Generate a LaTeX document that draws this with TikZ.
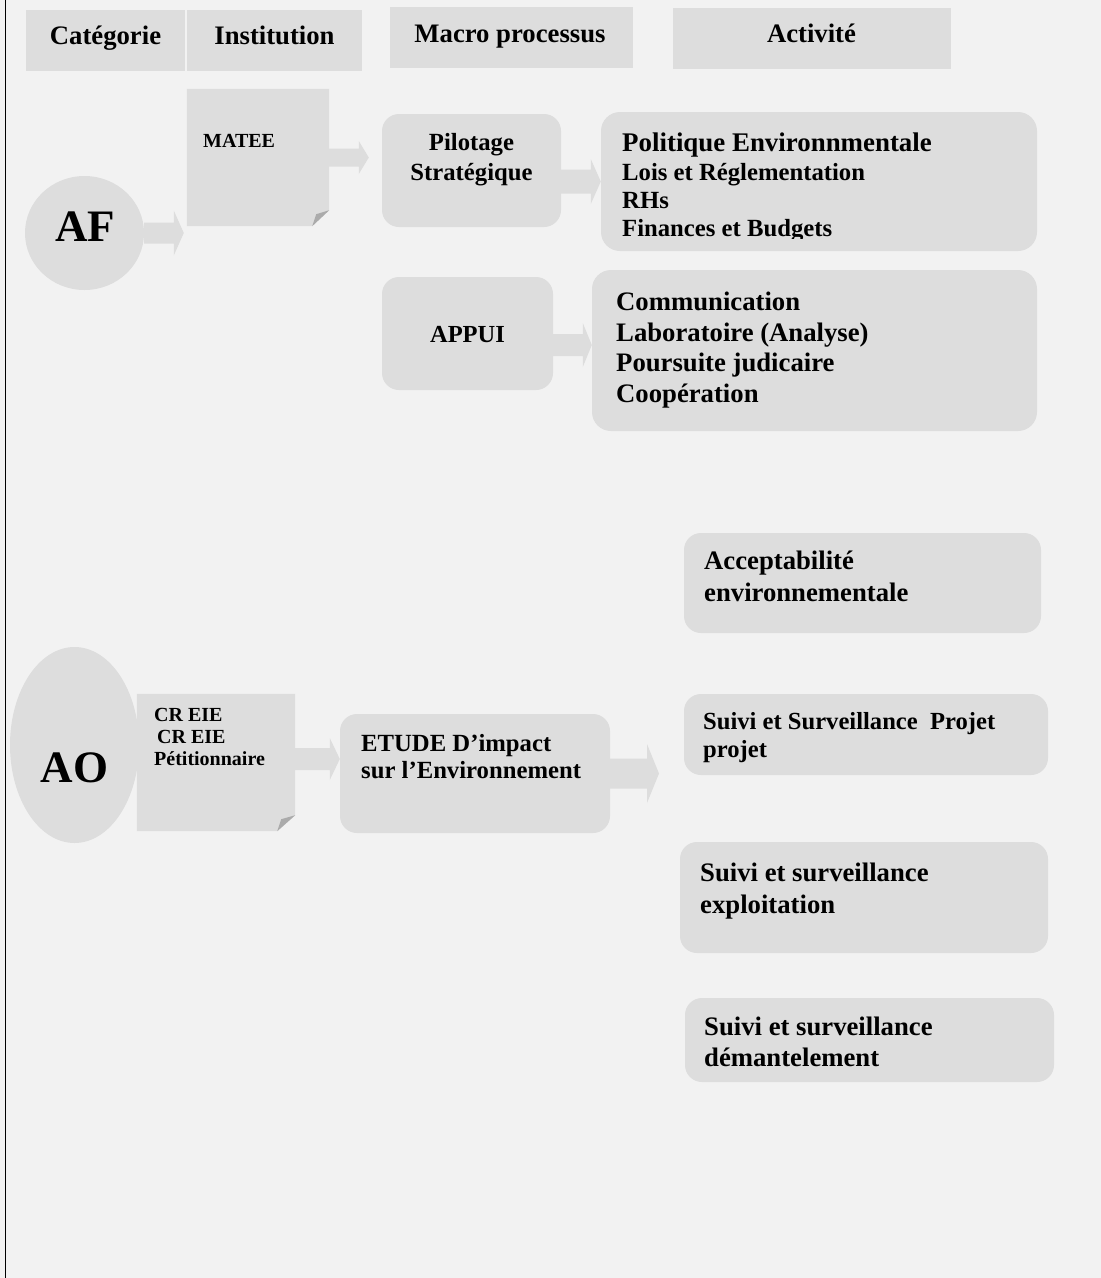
\documentclass[tikz,border=0pt]{standalone}
\usepackage{fontspec}
\setmainfont{Liberation Serif}
\usetikzlibrary{calc,shapes.geometric}
\definecolor{bgc}{HTML}{F2F2F2}
\definecolor{boxc}{HTML}{DDDDDD}
\definecolor{foldc}{HTML}{ABABAB}
\newcommand\fsz[1]{\fontsize{#1pt}{#1pt}\selectfont\bfseries}
% block arrow connector: start, end, shaft half width, head half width, head length
\newcommand\blockarr[5]{\fill[boxc] let \p1=(#1), \p2=(#2) in
  (\x1,\y1+#3) -- (\x2-#5,\y1+#3) -- (\x2-#5,\y1+#4) -- (\x2,\y1) --
  (\x2-#5,\y1-#4) -- (\x2-#5,\y1-#3) -- (\x1,\y1-#3) -- cycle;}
\begin{document}
\begin{tikzpicture}[x=1pt,y=-1pt,
  box/.style={fill=boxc, draw=none, inner sep=0pt},
  rbox/.style={box, rounded corners=17pt},
  ghost/.style={draw=none, fill=none, inner sep=0pt},
  t/.style={inner sep=0pt, anchor=base west},
  tc/.style={inner sep=0pt, anchor=base}]

\useasboundingbox (0,0) rectangle (1101,1278);
\fill[bgc] (0,0) rectangle (1101,1278);
\draw[black, line width=1pt] (5,0) -- (5,1278);

% ---- header boxes
\node[box, minimum width=159pt, minimum height=61pt] (hcat)   at (105.5,40.5) {};
\node[box, minimum width=175pt, minimum height=61pt] (hinst)  at (274.5,40.5) {};
\node[box, minimum width=243pt, minimum height=61pt] (hmacro) at (511.5,37.5) {};
\node[box, minimum width=278pt, minimum height=61pt] (hact)   at (812,38.5) {};
\node[tc, font=\fsz{26.7}] (tcat)   at (105.5,44) {Catégorie};
\node[tc, font=\fsz{26.7}] (tinst)  at (274.5,44) {Institution};
\node[tc, font=\fsz{26.7}] (tmacro) at (510,42) {Macro processus};
\node[tc, font=\fsz{26.7}] (tact)   at (811.5,42) {Activité};

% ---- AF branch
\node[box, ellipse, minimum width=119pt, minimum height=114pt] (af) at (84.5,233) {};
\node[tc, font=\fsz{45}] (taf) at (85,241) {AF};

\node[ghost, minimum width=142pt, minimum height=137pt] (matee) at (258,157.5) {};
\fill[boxc] (matee.north west) -- (matee.north east) -- ([yshift=16pt]matee.south east)
  -- ([xshift=-17pt]matee.south east) -- (matee.south west) -- cycle;
\fill[foldc] ([yshift=16pt]matee.south east) -- ([xshift=-17pt]matee.south east)
  -- ([xshift=-13pt,yshift=12pt]matee.south east) -- cycle;
\node[t, font=\fsz{20}] (tmatee) at (203,147) {MATEE};

\node[rbox, minimum width=179pt, minimum height=113pt] (pil) at (471.5,170.5) {};
\node[tc, font=\fsz{24.7}] (tpil1) at (471.5,150) {Pilotage};
\node[tc, font=\fsz{24.7}] (tpil2) at (471.5,180) {Stratégique};

\node[rbox, minimum width=171pt, minimum height=113pt] (appui) at (467.5,333.5) {};
\node[tc, font=\fsz{24.5}] (tappui) at (467.5,342) {APPUI};

\node[rbox, rounded corners=19pt, minimum width=436pt, minimum height=139pt] (pol) at (819,181.5) {};
\begin{scope}
\clip (600,100) rectangle (1040,238);
\node[t, font=\fsz{26.9}] (tpol1) at (622,151) {Politique Environnmentale};
\node[t, font=\fsz{24.7}] (tpol2) at (622,180) {Lois et Réglementation};
\node[t, font=\fsz{24.7}] (tpol3) at (622,208) {RHs};
\node[t, font=\fsz{24.7}] (tpol4) at (622,236) {Finances et Budgets};
\end{scope}

\node[rbox, rounded corners=19pt, minimum width=445pt, minimum height=161pt] (comm) at (814.5,350.5) {};
\node[t, font=\fsz{26.7}] (tcom1) at (616,310) {Communication};
\node[t, font=\fsz{26.7}] (tcom2) at (616,341) {Laboratoire (Analyse)};
\node[t, font=\fsz{26.7}] (tcom3) at (616,371) {Poursuite judicaire};
\node[t, font=\fsz{26.7}] (tcom4) at (616,402) {Coopération};

% ---- AO branch
\node[box, ellipse, minimum width=129pt, minimum height=196pt] (ao) at (74.5,745) {};
\node[tc, font=\fsz{45}] (tao) at (74.5,782) {AO};

\node[ghost, minimum width=158pt, minimum height=137pt] (cr) at (216,762.5) {};
\fill[boxc] (cr.north west) -- (cr.north east) -- ([yshift=16pt]cr.south east)
  -- ([xshift=-18pt]cr.south east) -- (cr.south west) -- cycle;
\fill[foldc] ([yshift=16pt]cr.south east) -- ([xshift=-18pt]cr.south east)
  -- ([xshift=-14pt,yshift=12pt]cr.south east) -- cycle;
\node[t, font=\fsz{20}] (tcr1) at (154,721) {CR EIE};
\node[t, font=\fsz{20}] (tcr2) at (157,743) {CR EIE};
\node[t, font=\fsz{20}] (tcr3) at (154,765) {Pétitionnaire};

\node[rbox, minimum width=270pt, minimum height=119pt] (etude) at (475,773.5) {};
\node[t, font=\fsz{24.7}] (tet1) at (361,751) {ETUDE D’impact};
\node[t, font=\fsz{24.7}] (tet2) at (361,778) {sur l’Environnement};
\coordinate (etip) at (659,774);

\node[rbox, minimum width=357pt, minimum height=100pt] (acc) at (862.5,583) {};
\node[t, font=\fsz{26.7}] (tacc1) at (704,569) {Acceptabilité};
\node[t, font=\fsz{26.7}] (tacc2) at (704,601) {environnementale};

\node[rbox, minimum width=364pt, minimum height=81pt] (suivp) at (866,734.5) {};
\node[t, font=\fsz{24.6}] (tsp1) at (703,729) {Suivi et Surveillance\ \ Projet};
\node[t, font=\fsz{24.6}] (tsp2) at (703,757) {projet};

\node[rbox, minimum width=368pt, minimum height=111pt] (expl) at (864,897.5) {};
\node[t, font=\fsz{26.7}] (tex1) at (700,881) {Suivi et surveillance};
\node[t, font=\fsz{26.7}] (tex2) at (700,913) {exploitation};

\node[rbox, minimum width=369pt, minimum height=84pt] (dem) at (869.5,1040) {};
\node[t, font=\fsz{26.7}] (tdm1) at (704,1035) {Suivi et surveillance};
\node[t, font=\fsz{26.7}] (tdm2) at (704,1066) {démantelement};

% ---- block arrows (connectors)
\blockarr{af.east}{[xshift=-3pt]matee.west}{10.5pt}{22.5pt}{10pt}
\blockarr{matee.east}{[xshift=-13pt]pil.west}{9pt}{16.5pt}{10pt}
\blockarr{pil.east |- pol.west}{pol.west}{12pt}{22.5pt}{10pt}
\blockarr{[yshift=-11.5pt]appui.east}{comm.west}{11pt}{22pt}{9pt}
\blockarr{[yshift=3.5pt]cr.east}{etude.west}{11pt}{21pt}{10pt}
\blockarr{etude.east}{etip}{15pt}{29.5pt}{12pt}
\end{tikzpicture}
\end{document}
